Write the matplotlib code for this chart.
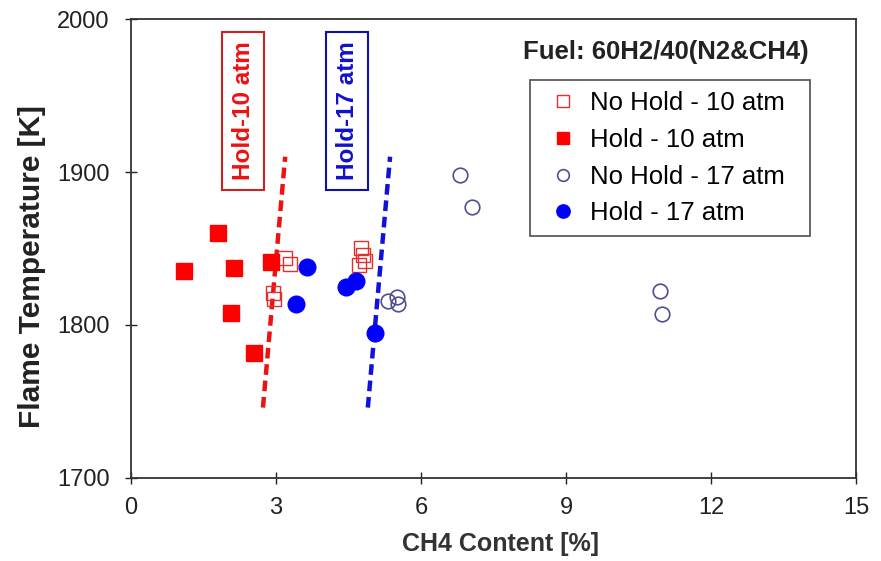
import matplotlib
matplotlib.use("Agg")
import matplotlib.pyplot as plt

plt.rcParams['font.family'] = ['Liberation Sans', 'DejaVu Sans']

# Data
nohold10_x = [3.19, 3.29, 2.94, 2.96, 4.76, 4.80, 4.84, 4.72]
nohold10_y = [1844, 1840, 1821, 1817, 1850, 1846, 1842, 1839]
hold10_x = [1.80, 1.10, 2.13, 2.90, 2.07, 2.54]
hold10_y = [1860, 1835, 1837, 1841, 1808, 1782]
nohold17_x = [5.32, 5.50, 5.52, 6.81, 7.06, 10.95, 10.99]
nohold17_y = [1816, 1818, 1814, 1898, 1877, 1822, 1807]
hold17_x = [3.64, 3.41, 4.45, 4.66, 5.05]
hold17_y = [1838, 1814, 1825, 1829, 1795]

line10_x = [2.73, 3.19]
line10_y = [1746, 1910]
line17_x = [4.90, 5.36]
line17_y = [1746, 1910]

xticks = [0, 3, 6, 9, 12, 15]
yticks = [1700, 1800, 1900, 2000]

fig = plt.figure(figsize=(8.81, 5.61), dpi=100)
ax = fig.add_axes([0.1487, 0.148, 0.8229, 0.8181])

ax.plot(line10_x, line10_y, color='#ee1111', lw=3.2, ls=(0, (2.4, 1.3)), zorder=2)
ax.plot(line17_x, line17_y, color='#1111dd', lw=3.2, ls=(0, (2.4, 1.3)), zorder=2)

ax.plot(nohold10_x, nohold10_y, ls='none', marker='s', ms=10, mfc='none',
        mec='#e03030', mew=1.0, label='No Hold - 10 atm', zorder=3)
ax.plot(hold10_x, hold10_y, ls='none', marker='s', ms=11.5, mfc='#ff0000',
        mec='#ff0000', label='Hold - 10 atm', zorder=3)
ax.plot(nohold17_x, nohold17_y, ls='none', marker='o', ms=10.5, mfc='none',
        mec='#4f4f8f', mew=1.2, label='No Hold - 17 atm', zorder=3)
ax.plot(hold17_x, hold17_y, ls='none', marker='o', ms=12, mfc='#0000ff',
        mec='#0000ff', label='Hold - 17 atm', zorder=3)

ax.set_xlim(0, 15)
ax.set_ylim(1700, 2000)
ax.set_xticks(xticks)
ax.set_yticks(yticks)
ax.tick_params(direction='inout', length=9, width=1, labelsize=17, colors='#222222', pad=9)
ax.tick_params(axis='y', pad=11)
for s in ax.spines.values():
    s.set_linewidth(1.3)
    s.set_color('#333333')

ax.set_xlabel('CH4 Content [%]', fontsize=18, fontweight='bold', color='#333333')
ax.xaxis.set_label_coords(0.509, -0.118)
ax.set_ylabel('Flame Temperature [K]', fontsize=21.5, fontweight='bold', color='#222222')
ax.yaxis.set_label_coords(-0.117, 0.46)

ax.text(2.32, 1940, 'Hold-10 atm', rotation=90, ha='center', va='center',
        fontsize=17.5, fontweight='bold', color='#ee1111',
        bbox=dict(boxstyle='square,pad=0.4', fc='white', ec='#cc2222', lw=1.5))
ax.text(4.47, 1940, 'Hold-17 atm', rotation=90, ha='center', va='center',
        fontsize=17.5, fontweight='bold', color='#1111cc',
        bbox=dict(boxstyle='square,pad=0.4', fc='white', ec='#1111aa', lw=1.5))

ax.text(0.738, 0.929, 'Fuel: 60H2/40(N2&CH4)', transform=ax.transAxes,
        ha='center', va='center', fontsize=18.5, fontweight='bold', color='#222222')

leg = ax.legend(loc='upper left', bbox_to_anchor=(0.5503, 0.0, 0.386, 0.867),
                mode='expand', fontsize=18.5,
                frameon=True, fancybox=False, edgecolor='#333333',
                handlelength=1.7, handletextpad=0.2, borderpad=0.42,
                labelspacing=0.5, markerscale=0.8, borderaxespad=0)
leg.get_frame().set_linewidth(1.3)

fig.savefig('out.png', dpi=100)
